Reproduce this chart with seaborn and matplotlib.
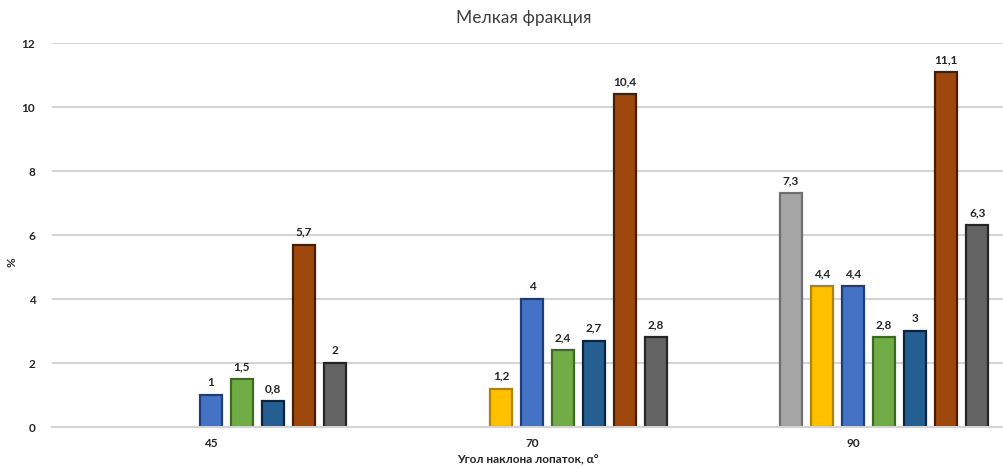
import numpy as np
import pandas as pd
import matplotlib.pyplot as plt
import seaborn as sns

# categories (blade angle) and series values
angles = ['45', '70', '90']
series_names = ['Ряд 1', 'Ряд 2', 'Ряд 3', 'Ряд 4', 'Ряд 5', 'Ряд 6', 'Ряд 7']
s1 = [np.nan, np.nan, 7.3]
s2 = [np.nan, 1.2, 4.4]
s3 = [1.0, 4.0, 4.4]
s4 = [1.5, 2.4, 2.8]
s5 = [0.8, 2.7, 3.0]
s6 = [5.7, 10.4, 11.1]
s7 = [2.0, 2.8, 6.3]
all_series = [s1, s2, s3, s4, s5, s6, s7]

fills = ['#A5A5A5', '#FFC000', '#4472C4', '#70AD47', '#255E91', '#9E480E', '#636363']
edges = ['#6f6f6f', '#b08400', '#1f3d78', '#3d6b22', '#0c2440', '#4a1d03', '#262626']


def fmt(v):
    return ('%g' % v).replace('.', ',')


def make_plot(df):
    sns.set_style('white')
    plt.rcParams['font.family'] = ['Lato', 'DejaVu Sans']
    fig = plt.figure(figsize=(10.04, 4.66), dpi=100)
    ax = fig.add_axes([52 / 1004, 39 / 466, 952 / 1004, 384 / 466])

    # two empty hue slots in front keep the Excel-like offset of the groups
    hue_order = ['_a', '_b'] + series_names
    palette = dict(zip(hue_order, ['white', 'white'] + fills))
    sns.barplot(data=df, x='angle', y='value', hue='series', hue_order=hue_order,
                palette=palette, order=angles, width=0.87, gap=0.3,
                errorbar=None, saturation=1, legend=False, ax=ax)

    edge_map = dict(zip(fills, edges))
    for cont in ax.containers:
        labels = []
        for p in cont.patches:
            fc = '#%02X%02X%02X' % tuple(int(round(c * 255)) for c in p.get_facecolor()[:3])
            p.set_edgecolor(edge_map.get(fc, '#333333'))
            p.set_linewidth(1.6)
            h = p.get_height()
            labels.append('' if (h is None or np.isnan(h) or h == 0) else fmt(h))
        ax.bar_label(cont, labels=labels, padding=5, fontsize=8.5, fontweight='bold', color='#262626')

    ax.set_ylim(0, 12)
    ax.set_yticks(range(0, 13, 2))
    ax.set_xlim(-0.495, 2.47)
    ax.yaxis.grid(True, color='#d4d4d4', linewidth=1.5)
    ax.set_axisbelow(True)
    for s in ['top', 'right', 'left']:
        ax.spines[s].set_visible(False)
    ax.spines['bottom'].set_color('#d4d4d4')
    ax.spines['bottom'].set_linewidth(1.5)
    ax.tick_params(axis='both', length=0, labelsize=8.5, labelcolor='#262626')
    ax.tick_params(axis='y', pad=12)
    ax.tick_params(axis='x', pad=8)
    for t in ax.get_xticklabels() + ax.get_yticklabels():
        t.set_fontweight('bold')

    ax.set_xlabel('Угол наклона лопаток, α°', fontsize=8.5, fontweight='bold', color='#262626', labelpad=4)
    ax.set_ylabel('%', fontsize=8.5, fontweight='bold', color='#262626')
    ax.yaxis.set_label_coords(-0.036, 0.43)
    fig.text(0.522, (466 - 18) / 466, 'Мелкая фракция', ha='center', va='center',
             fontsize=12.5, color='#404040')

    fig.savefig('out.png', dpi=100)


if __name__ == '__main__':
    rows = []
    for name, vals in zip(series_names, all_series):
        for a, v in zip(angles, vals):
            rows.append({'angle': a, 'series': name, 'value': v})
    data_frame = pd.DataFrame(rows)
    make_plot(data_frame)
